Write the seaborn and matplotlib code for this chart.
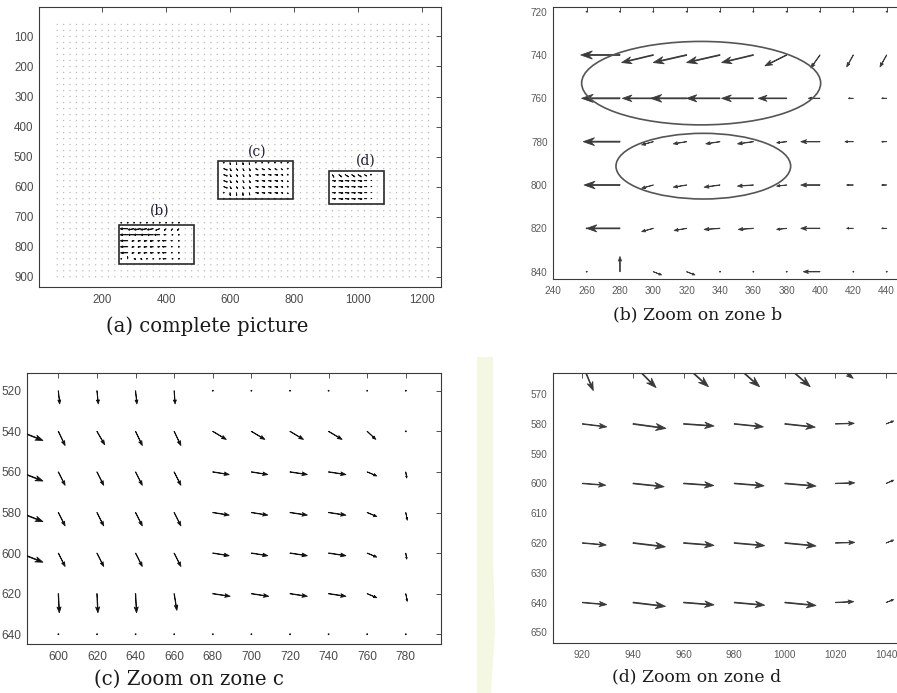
import numpy as np
import pandas as pd
import matplotlib.pyplot as plt
import seaborn as sns
from matplotlib.patches import Rectangle, Ellipse, Polygon

# ============================================================
# 1. Data
# ============================================================
# full picture: flow vectors sampled every 20 px
grid_x = np.arange(60, 1221, 20)
grid_y = np.arange(60, 901, 20)

# zone b
b_x = [260, 280, 300, 320, 340, 360, 380, 400, 420, 440]
b_y = [720, 740, 760, 780, 800, 820, 840]
b_u = [[0, 0, 0, 0, 0, 0, 0, 0, 0, 0],
       [0, -23.5, -19, -20, -20, -19, -13, -5.5, -4, -4],
       [0, -23, -18.5, -21.5, -20, -19, -17, -7, -3, -3],
       [0, -22, -7, -8, -8.5, -9.5, -6, -11.5, -5, -3],
       [0, -21.5, -7, -8, -9.5, -9.5, -6, -11.5, -4, -3],
       [0, -20, -7, -7.5, -9.5, -9, -6, -11.5, -4, -3],
       [0, 0, 5, 5, 0, 0, 0, -10, 0, 0]]
b_v = [[0, 0, 0, 0, 0, 0, 0, 0, 0, 0],
       [0, 0, 3.5, 3.5, 3.5, 3.5, 5, 6, 5.5, 5.5],
       [0, 0, 0, 0, 0, 0, 0, 0, 0, 0],
       [0, 0, 1.5, 1, 1, 1, 0.5, 0, 0, 0],
       [0, 0, 1.5, 1, 1, 0.5, 0.5, 0, 0, 0],
       [0, 0, 1.5, 1, 0.5, 0.5, 0.5, 0, 0, 0],
       [0, -7, 1.5, 1.5, 0, 0, 0, 0, 0, 0]]
# the two vortices circled in zone b: centre x, centre y, width, height
b_ell_cx = [328.7, 330.0]
b_ell_cy = [753.0, 791.3]
b_ell_w = [143.4, 104.8]
b_ell_h = [38.5, 30.3]

# zone c
c_x = [580, 600, 620, 640, 660, 680, 700, 720, 740, 760, 780]
c_y = [520, 540, 560, 580, 600, 620, 640]
c_u = [[0, 0.7, 0.7, 0.7, 0.5, 0, 0, 0, 0, 0, 0],
       [12, 3.5, 4, 3.5, 3.5, 7, 7, 7, 7, 4.5, 0],
       [12, 3.5, 3.5, 3.5, 3.5, 8.5, 8.5, 9, 9, 5, 0.5],
       [12, 3.5, 3.5, 3.5, 3.5, 8.5, 8.5, 9, 9, 5, 0.8],
       [12, 3.5, 3.5, 3.5, 3.5, 8.5, 8.5, 9, 9, 5, 0.5],
       [0, 0.5, 0.5, 0.5, 1.4, 9, 9, 9, 9, 5, 0.8],
       [0, 0, 0, 0, 0, 0, 0, 0, 0, 0, 0]]
c_v = [[0, 6.5, 6.5, 6.5, 6.5, 0, 0, 0, 0, 0, 0],
       [4.5, 7, 6.6, 7, 7, 4, 4, 4, 4, 4, 0],
       [4.5, 6.6, 6.6, 6.6, 6.6, 1.3, 1.3, 1.3, 1.3, 2, 3],
       [4.5, 6.6, 6.6, 6.6, 6.6, 1.3, 1.3, 1.3, 1.3, 2, 3.8],
       [4.5, 6.6, 6.6, 6.6, 6.6, 1.3, 1.3, 1.3, 1.3, 2, 3],
       [0, 9.4, 9.4, 9.4, 8.2, 1.3, 1.3, 1.3, 1.3, 2, 3.8],
       [0, 0, 0, 0, 0, 0, 0, 0, 0, 0, 0]]

# zone d
d_x = [920, 940, 960, 980, 1000, 1020, 1040]
d_y = [560, 580, 600, 620, 640]
d_u = [[4.3, 9.1, 9.8, 10, 10, 7, 0],
       [9.6, 13, 12, 11.5, 12, 7.4, 3],
       [9.2, 12.3, 11.9, 11.8, 12.3, 7.6, 3],
       [9.4, 12.8, 12, 12, 12.3, 7.6, 3],
       [9.6, 12.8, 12, 12, 12.3, 7.2, 3]]
d_v = [[8.8, 7.8, 7.5, 7.5, 7.5, 4.7, 0],
       [1, 1.5, 0.7, 1, 1.1, -0.2, -1],
       [0.6, 1.1, 0.7, 0.8, 0.9, -0.2, -1.1],
       [0.7, 1.3, 0.8, 0.9, 1.0, -0.2, -1],
       [0.7, 1.3, 0.8, 0.9, 1.0, -0.3, -1]]

# zoom boxes drawn on the complete picture
zone_names = ['(b)', '(c)', '(d)']
zone_x0 = [254, 563, 910]
zone_x1 = [486, 798, 1081]
zone_y0 = [727, 514, 549]
zone_y1 = [859, 641, 658]
zone_label_x = [380, 685, 1024]
zone_label_y = [680, 483, 514]

captions = ['(a) complete picture', '(b) Zoom on zone b',
            '(c) Zoom on zone c', '(d) Zoom on zone d']

# ============================================================
# 2. Style
# ============================================================
sns.set_theme(style='white')
plt.rcParams['font.family'] = ['Liberation Sans', 'DejaVu Sans']
plt.rcParams['axes.edgecolor'] = '#3a3a3a'
plt.rcParams['axes.linewidth'] = 0.8

W, H = 897, 693
fig = plt.figure(figsize=(W / 100, H / 100), dpi=100)


def px_axes(left, top, right, bottom):
    return fig.add_axes([left / W, 1 - bottom / H, (right - left) / W, (bottom - top) / H])


def style_ax(ax, xt, yt, fs, lab_col='#4a4a4a', right=True):
    ax.set_xticks(xt)
    ax.set_yticks(yt)
    ax.tick_params(direction='in', top=True, right=right, length=3.5, width=0.6,
                   color='#333333', labelsize=fs, labelcolor=lab_col)
    ax.tick_params(axis='x', pad=5)
    ax.tick_params(axis='y', pad=4)
    ax.set_xlabel('')
    ax.set_ylabel('')
    ax.grid(False)


def draw_field(ax, xs, ys, u, v, color):
    X, Y = np.meshgrid(xs, ys)
    ax.quiver(X, Y, np.array(u, float), np.array(v, float),
              angles='xy', scale_units='xy', scale=1,
              units='dots', width=1.0, headwidth=8, headlength=11.5,
              headaxislength=8, minshaft=3.3, minlength=1,
              color=color, edgecolor=color, linewidth=0.6, zorder=3)


# faint scanner watermark between the lower panels
fig.patches.append(Polygon(
    [(477 / W, 1 - 357 / H), (493 / W, 1 - 357 / H), (493 / W, 1 - 560 / H),
     (495 / W, 1 - 630 / H), (491 / W, 0), (477 / W, 0)],
    closed=True, transform=fig.transFigure, facecolor='#f4f7e1', edgecolor='none', zorder=0))

# ============================================================
# 3. (a) complete picture
# ============================================================
ax_a = px_axes(39, 7, 441, 287)
gx, gy = np.meshgrid(grid_x, grid_y)
dots = pd.DataFrame({'x': gx.ravel(), 'y': gy.ravel()})
sns.scatterplot(data=dots, x='x', y='y', ax=ax_a, s=1.0, color='#b8b8b8',
                edgecolor='none', linewidth=0, zorder=1)
for xs, ys, u, v in [(b_x, b_y, b_u, b_v), (c_x, c_y, c_u, c_v), (d_x, d_y, d_u, d_v)]:
    draw_field(ax_a, xs, ys, u, v, '#111111')
for name, x0, x1, y0, y1, lx, ly in zip(zone_names, zone_x0, zone_x1, zone_y0, zone_y1,
                                        zone_label_x, zone_label_y):
    ax_a.add_patch(Rectangle((x0, y0), x1 - x0, y1 - y0, fill=False,
                             edgecolor='#2a2a2a', linewidth=1.2, zorder=4))
    ax_a.text(lx, ly, name, ha='center', va='center', fontsize=10,
              family='DejaVu Serif', color='#1c1f2e')
ax_a.set_xlim(3, 1259)
ax_a.set_ylim(934, 2)
style_ax(ax_a, [200, 400, 600, 800, 1000, 1200], list(range(100, 1000, 100)), 8.3)

# ============================================================
# 4. (b) zoom on zone b
# ============================================================
ax_b = px_axes(553.3, 7.3, 900, 279.3)
draw_field(ax_b, b_x, b_y, b_u, b_v, '#3a3a3a')
for cx, cy, ew, eh in zip(b_ell_cx, b_ell_cy, b_ell_w, b_ell_h):
    ax_b.add_patch(Ellipse((cx, cy), ew, eh, fill=False, edgecolor='#555555',
                           linewidth=1.2, zorder=4))
ax_b.set_xlim(240, 448)
ax_b.set_ylim(843.5, 718)
style_ax(ax_b, list(range(240, 441, 20)), list(range(720, 841, 20)), 7.2, '#5a5a5a', right=False)

# ============================================================
# 5. (c) zoom on zone c
# ============================================================
ax_c = px_axes(26.7, 373.3, 440.7, 644)
draw_field(ax_c, c_x, c_y, c_u, c_v, '#111111')
ax_c.set_xlim(583.6, 798.1)
ax_c.set_ylim(644.8, 511.4)
style_ax(ax_c, list(range(600, 781, 20)), list(range(520, 641, 20)), 8.6)

# ============================================================
# 6. (d) zoom on zone d
# ============================================================
ax_d = px_axes(553.3, 373.3, 900, 642.7)
draw_field(ax_d, d_x, d_y, d_u, d_v, '#3a3a3a')
ax_d.set_xlim(908.5, 1045.5)
ax_d.set_ylim(653.5, 563)
style_ax(ax_d, list(range(920, 1041, 20)), list(range(570, 651, 10)), 7.2, '#5a5a5a', right=False)

# ============================================================
# 7. Captions
# ============================================================
cap_x = [207, 698, 188.5, 697]
cap_y = [326, 314.7, 679, 676.5]
cap_size = [14.1, 12.4, 14.2, 12.4]
for txt, cx, cy, fs in zip(captions, cap_x, cap_y, cap_size):
    fig.text(cx / W, 1 - cy / H, txt, ha='center', va='center', fontsize=fs,
             family='DejaVu Serif', color='#1a1a1a')

fig.savefig('out.png', dpi=100)
